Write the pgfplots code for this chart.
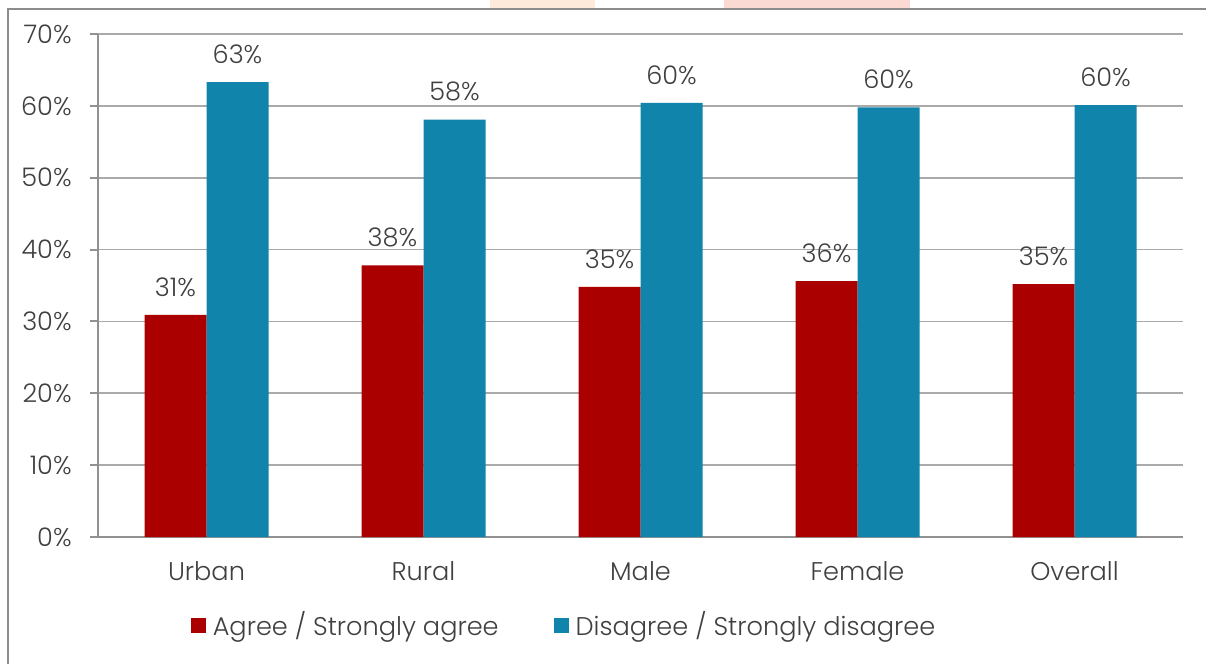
\documentclass[border=0pt]{standalone}
\usepackage{pgfplots}
\pgfplotsset{compat=1.18}
\usepackage{fontspec}
\setmainfont{Poppins Light}

\definecolor{agreered}{RGB}{170,0,0}
\definecolor{disblue}{RGB}{17,132,171}
\definecolor{txt}{RGB}{64,64,64}
\definecolor{gridgray}{RGB}{170,170,170}
\definecolor{axisgray}{RGB}{145,145,145}
\definecolor{framegray}{RGB}{140,140,140}
\definecolor{peach}{RGB}{253,234,218}
\definecolor{rosy}{RGB}{252,218,212}

% Share of respondents by group
\pgfplotstableread{
x  agree  disagree
0  30.9   63.3
1  37.8   58.1
2  34.8   60.4
3  35.6   59.8
4  35.2   60.1
}\responses

\newcommand{\lbl}{\fontsize{12.8bp}{15bp}\selectfont}

\begin{document}
\begin{tikzpicture}
\useasboundingbox (-49bp,-63.5bp) rectangle (554bp,268.5bp);
% slide background strips and chart frame
\fill[peach] (196bp,264.5bp) rectangle (248.5bp,268.5bp);
\fill[rosy] (313bp,264.5bp) rectangle (406bp,268.5bp);
\fill[white] (-45bp,264bp) rectangle (560bp,-70bp);
\draw[framegray, line width=1bp] (-45bp,-70bp) -- (-45bp,264bp) -- (560bp,264bp);
\begin{axis}[
  at={(0,0)}, anchor=south west,
  scale only axis,
  width=542.5bp, height=251.5bp,
  ymin=0, ymax=70,
  xmin=-0.5, xmax=4.5,
  axis x line*=bottom, axis y line*=left,
  axis line style={axisgray, line width=1bp, -},
  ytick={0,10,...,70},
  yticklabel={\pgfmathprintnumber{\tick}\%},
  /pgf/number format/assume math mode=true,
  ymajorgrids,
  grid style={gridgray, line width=0.9bp},
  xtick={0,1,2,3,4},
  xticklabels={Urban,Rural,Male,Female,Overall},
  minor xtick={-0.5,0.5,1.5,2.5,3.5,4.5},
  tick align=outside,
  major tick length=4bp,
  minor tick length=4bp,
  xtick style={draw=none},
  minor tick style={axisgray, line width=1bp},
  ytick style={axisgray, line width=1bp},
  tick label style={font=\lbl, text=txt},
  yticklabel style={inner sep=0pt, anchor=east, xshift=-9bp},
  xticklabel style={inner sep=0pt, anchor=north, yshift=-8bp},
  ybar, bar width=31bp,
  nodes near coords={\pgfmathprintnumber[fixed,precision=0]{\pgfplotspointmeta}\%},
  every node near coord/.append style={font=\lbl, text=txt, inner sep=0pt, anchor=south, yshift=9bp},
  legend style={
    at={(0.4286,-0.175)}, anchor=center, draw=none, fill=none,
    legend columns=2,
    font=\lbl, text=txt,
    nodes={inner sep=0pt},
    /tikz/every odd column/.append style={column sep=3.5bp},
    /tikz/every even column/.append style={column sep=27.5bp},
  },
  legend image code/.code={\fill[#1] (0bp,-3.75bp) rectangle (7.5bp,3.75bp);},
]
\addplot[fill=agreered, draw=none, bar shift=-15.5bp] table[x=x, y=agree] {\responses};
\addplot[fill=disblue, draw=none, bar shift=15.5bp] table[x=x, y=disagree] {\responses};
\legend{Agree / Strongly agree, Disagree / Strongly disagree}
\end{axis}
\end{tikzpicture}
\end{document}
